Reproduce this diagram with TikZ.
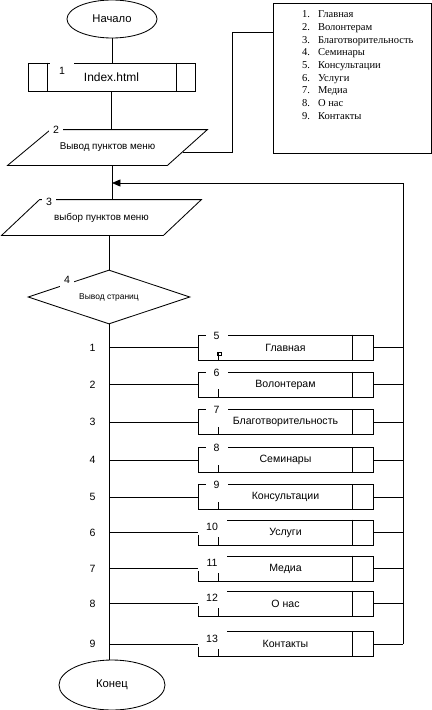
\documentclass[tikz,border=0pt]{standalone}
\usepackage{fontspec}
\setmainfont{Liberation Sans}
\newfontfamily\listfamily{Liberation Serif}
\usetikzlibrary{arrows.meta,positioning,shapes.geometric,calc}

\begin{document}
\begin{tikzpicture}[
    x=0.025cm, y=-0.025cm,
    line width=0.6pt,
    term/.style={ellipse, draw, inner sep=0pt, font=\fontsize{8}{10}\selectfont},
    proc/.style={rectangle, draw, inner sep=0pt, minimum width=175*0.025cm,
                 minimum height=25*0.025cm, font=\fontsize{7.5}{9}\selectfont},
    io/.style={inner sep=0pt, minimum width=199*0.025cm, minimum height=35*0.025cm,
               font=\fontsize{7}{8}\selectfont},
    num/.style={fill=white, inner sep=0pt, minimum size=14*0.025cm,
                font=\fontsize{7.5}{9}\selectfont},
    lbl/.style={inner sep=0pt, font=\fontsize{7.5}{9}\selectfont},
    back/.style={-{Triangle[length=6pt,width=5pt]}},
]
    \useasboundingbox (0,0) rectangle (432,710);

    % Start
    \node[term, minimum width=90*0.025cm, minimum height=38*0.025cm] (start) at (112,19) {Начало};

    % 1: Index.html
    \node[proc, minimum width=167*0.025cm, minimum height=28*0.025cm,
          font=\fontsize{8.5}{10}\selectfont] (p1) at (111.5,77) {Index.html};
    \draw ($(p1.north west)+(20,0)$) -- ($(p1.south west)+(20,0)$);
    \draw ($(p1.north east)+(-19,0)$) -- ($(p1.south east)+(-19,0)$);
    \node[num, anchor=north, minimum width=24*0.025cm, minimum height=18*0.025cm] at (62,61) {1};

    % 2: menu output
    \node[io] (p2) at (107.5,147.5) {Вывод пунктов меню};
    \draw ($(p2.north west)+(43,0)$) -- (p2.north east) -- ($(p2.south east)+(-40,0)$)
        -- (p2.south west) -- cycle;
    \node[num] at (56,130) {2};

    % Menu list
    \node[draw, inner sep=0pt, minimum width=158*0.025cm, minimum height=150*0.025cm] (menu) at (352,78) {};
    \node[anchor=north west, inner sep=0pt, align=left,
          font=\listfamily\fontsize{7.5}{9}\selectfont] (items) at ($(menu.north west)+(29,8)$)
        {\makebox[11.4pt][l]{1.}Главная\\
         \makebox[11.4pt][l]{2.}Волонтерам\\
         \makebox[11.4pt][l]{3.}Благотворительность\\
         \makebox[11.4pt][l]{4.}Семинары\\
         \makebox[11.4pt][l]{5.}Консультации\\
         \makebox[11.4pt][l]{6.}Услуги\\
         \makebox[11.4pt][l]{7.}Медиа\\
         \makebox[11.4pt][l]{8.}О нас\\
         \makebox[11.4pt][l]{9.}Контакты};
    \coordinate (p2r) at ($(p2.east)+(-24,4.5)$);
    \draw (p2r) -- ++(49,0) |- ($(menu.north west)+(0,30)$);

    % 3: menu choice
    \node[io] (p3) at (101.5,217.5) {выбор пунктов меню};
    \draw ($(p3.north west)+(38,0)$) -- (p3.north east) -- ($(p3.south east)+(-38,0)$)
        -- (p3.south west) -- cycle;
    \node[num] at (49,202) {3};

    % 4: page output
    \node[diamond, draw, aspect=3, inner sep=0pt, minimum width=162*0.025cm,
          minimum height=54*0.025cm, font=\fontsize{6}{7}\selectfont] (d4) at (109,297) {Вывод страниц};
    \node[num] at (67,280) {4};

    % End
    \node[term, minimum width=106*0.025cm, minimum height=50*0.025cm] (stop) at (112,685) {Конец};

    % Main line
    \draw (start.south) -- (start.south |- p1.north);
    \draw (p1.south) -- (p1.south |- p2.north);
    \draw (start.south |- p2.south) -- (start.south |- p3.north);
    \draw (d4.north |- p3.south) -- (d4.north);
    \draw (d4.south) -- (d4.south |- stop.north);

    % Return arrow
    \coordinate (loop) at (403,183);
    \draw[back] (loop) -- (start.south |- loop);

    % Pages
    \foreach \n/\t/\y/\k in {5/Главная/347.5/1, 6/Волонтерам/384.5/2,
            7/Благотворительность/422/3, 8/Семинары/460/4, 9/Консультации/497/5,
            10/Услуги/532.5/6, 11/Медиа/568.5/7, 12/О нас/603.5/8, 13/Контакты/644/9} {
        \node[proc] (b\n) at (285.5,\y) {\t};
        \draw ($(b\n.north east)+(-21,0)$) -- ($(b\n.south east)+(-21,0)$);
        \draw ($(b\n.south west)+(21,0)$) -- ++(0,-8);
        \ifnum\n<10
            \node[num, minimum width=22*0.025cm] at ($(b\n.north west)+(19,1)$) {\n};
        \else
            \node[num, anchor=north west, minimum width=30*0.025cm, minimum height=16*0.025cm]
                at ($(b\n.north west)+(-1,-1)$) {\n};
        \fi
        \draw (d4.south |- b\n.west) node[lbl, left=0.33cm] {\k} -- (b\n.west);
        \draw (b\n.east) -- (loop |- b\n.east);
    }
    \draw (217,352) rectangle (221,355);
    \draw (loop) -- (loop |- b13.east);
\end{tikzpicture}
\end{document}
